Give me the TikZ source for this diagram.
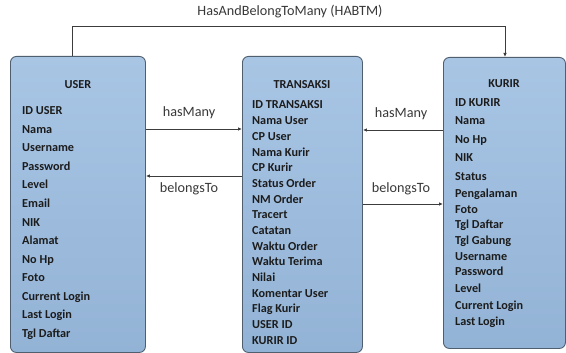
\documentclass[tikz,border=0pt]{standalone}
\usepackage{fontspec}
\setmainfont{Carlito}
\usetikzlibrary{arrows.meta}
\definecolor{boxtop}{HTML}{A8C5E4}
\definecolor{boxbot}{HTML}{93B3D6}
\definecolor{boxline}{HTML}{4F5F70}
\definecolor{txt}{HTML}{1C1C1C}
\definecolor{lbl}{HTML}{383838}
\definecolor{lin}{HTML}{3C3C3C}
\tikzset{
  entity/.style={draw=boxline, line width=0.9pt, rounded corners=6pt, top color=boxtop, bottom color=boxbot, anchor=north west, inner sep=0pt},
  field/.style={anchor=base west, inner sep=0pt, text=txt, font=\fontsize{12.2}{13}\selectfont\bfseries},
  title/.style={anchor=base, inner sep=0pt, text=txt, font=\fontsize{12.2}{13}\selectfont\bfseries},
  rel/.style={inner sep=0pt, text=lbl, font=\fontsize{14.2}{16}\selectfont},
  conn/.style={draw=lin, line width=0.8pt, -{Latex[length=4pt,width=3.5pt]}}
}
\begin{document}
\begin{tikzpicture}[x=1pt,y=-1pt]
\useasboundingbox (0,0) rectangle (566,353);
% entities
\node[entity, minimum width=135pt, minimum height=296pt] (user) at (10,56) {};
\node[entity, minimum width=120pt, minimum height=296pt] (trans) at (242,56) {};
\node[entity, minimum width=122pt, minimum height=291pt] (kurir) at (443,57) {};
% titles
\node[title] (usert) at (78,89) {USER};
\node[title] (transt) at (302,89) {TRANSAKSI};
\node[title] (kurirt) at (504,88) {KURIR};
% USER fields
\foreach \t [count=\i] in {ID USER, Nama, Username, Password, Level, Email, NIK, Alamat, No Hp, Foto, Current Login, Last Login, Tgl Daftar}
  \node[field] (u\i) at (22,{115+(\i-1)*18.5}) {\t};
% TRANSAKSI fields
\foreach \t [count=\i] in {ID TRANSAKSI, Nama User, CP User, Nama Kurir, CP Kurir, Status Order, NM Order, Tracert, Catatan, Waktu Order, Waktu Terima, Nilai, Komentar User, Flag Kurir, USER ID, KURIR ID}
  \node[field] (t\i) at (252,{109+(\i-1)*15.67}) {\t};
% KURIR fields
\foreach \t/\yy [count=\i] in {ID KURIR/103, Nama/121, No Hp/139.5, NIK/158, Status/177, Pengalaman/193.5, Foto/209, Tgl Daftar/224.5, Tgl Gabung/240.5, Username/256, Password/272, Level/288, Current Login/305, Last Login/321}
  \node[field] (k\i) at (455,{\yy+4}) {\t};
% relations
\draw[conn] (user.east |- 0,129) -- (trans.west |- 0,129);
\node[rel] (hm1) at (189,113) {hasMany};
\draw[conn] (trans.west |- 0,176) -- (user.east |- 0,176);
\node[rel] (bt1) at (189,189) {belongsTo};
\draw[conn] (kurir.west |- 0,130) -- (trans.east |- 0,130);
\node[rel] (hm2) at (401,114) {hasMany};
\draw[conn] (trans.east |- 0,204) -- (kurir.west |- 0,204);
\node[rel] (bt2) at (401,189) {belongsTo};
% HABTM
\draw[conn] (user.north -| 72,0) -- (72,26) -- (505,26) -- (kurir.north -| 505,0);
\node[rel] (habtm) at (290,12) {HasAndBelongToMany (HABTM)};
\end{tikzpicture}
\end{document}
